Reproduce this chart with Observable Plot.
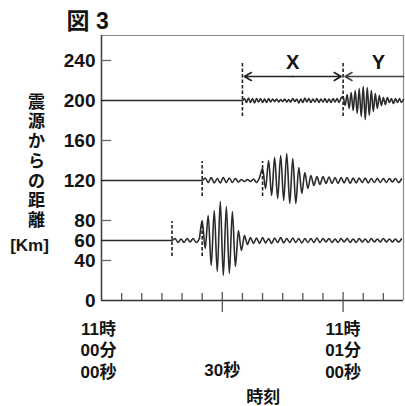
<!DOCTYPE html>
<html>
<head>
<meta charset="utf-8">
<script src="https://cdn.jsdelivr.net/npm/d3@7"></script>
<script src="https://cdn.jsdelivr.net/npm/@observablehq/plot@0.6"></script>
<style>
  html, body { margin: 0; padding: 0; background: #fff; }
  #chart { width: 405px; height: 406px; }
</style>
</head>
<body>
<div id="chart"></div>
<script>
// ---- data ----
const distances = [60, 120, 200];          // 震源からの距離 [km]
const pArrival  = [17.5, 25, 35];          // seconds after 11:00:00
const sArrival  = [25, 40, 60];
const waveStep  = [0.75, 0.75, 0.5];       // seconds between read samples

// trace displacements (km-scale units on the chart) sampled from P arrival onward
const wave60 = [
  0, 2, -2, 1.5, -2, 2, -1.5, 2, -2, 1.5,
  20, -8, 25, -25, 30, -31, 39, -35, 34, -33,
  29, -26, 10, -10, 5, -4, 3, -3, 2.5, -3,
  3, -2.5, 2, -3, 2.5, -2, 3, -2.5, 2, -2,
  2.5, -2, 2, -2.5, 2, -2, 2, -2, 2.5, -2,
  2, -1.5, 2, -2, 1.5, -2, 2, -1.5, 2, -2,
  1.5, -2, 2, -1.5, 1.5, -2, 2, -1.5, 1.5, -1.5,
  2, -1.5, 1.5, -1.5, 1.5, -1.5, 1.5
];
const wave120 = [
  0, 2.5, -2, 3, -2.5, 2, -2.5, 3, -2, 2.5,
  -2, 2, -1.5, 1, -1, 1, -1, 1.5, -2, 3,
  12, -8, 20, -15, 23, -18, 25, -20, 27, -23,
  22, -23, 13, -13, 8, -8, 5, -5, 4, -4,
  4, -3, 3.5, -3, 3, -3, 3, -2.5, 3, -3,
  2.5, -2.5, 2.5, -2, 2.5, -2.5, 2, -2, 2, -2,
  2, -2, 2, -1.5, 2, -2, 1.5
];
const wave200 = [
  0, 2, -2, 2.5, -2, 2, -2.5, 2, -1.5, 2,
  -2, 1.5, -2, 2, -1.5, 1.5, -1, 1.5, -1.5, 1,
  -1, 1.5, -1.5, 1, -1.5, 2, -1, 1.5, -2.5, 1.5,
  -2, 2.5, -1.5, 2, -2, 1.5, -1.5, 2, -2, 1.5,
  -1.5, 2, -2, 1.5, -2, 2, -1.5, 2, -2, 2.5,
  4, -5, 6, -8, 8, -10, 10, -13, 12, -16,
  14, -19, 13, -15, 10, -11, 7, -8, 5, -5,
  3, -4, 3, -2, 2, -3, 2, -2, 2, -2, 1
];
const waves = [wave60, wave120, wave200];

const yTicks = [0, 40, 60, 80, 120, 160, 200, 240];
const yInnerTicks = [40, 80, 160, 240];
const xMinorTicks = [5, 10, 15, 20, 25, 35, 40, 45, 50, 55, 65, 70];
const xMajorTicks = [30, 60];
const startLabel = [{t: 0, label: "11時\n00分\n00秒"}];
const endLabel = [{t: 60, label: "11時\n01分\n00秒"}];
const midLabel = [{t: 30, label: "30秒"}];
const xTitle = [{t: 40.2, label: "時刻"}];
const yTitle = "震\n源\nか\nら\nの\n距\n離";
const yUnit = "[Km]";
const intervalLabels = [{t: 47.5, label: "X"}, {t: 68.8, label: "Y"}];

// ---- build tables ----
const rows = [];
distances.forEach((dist, k) => {
  rows.push({dist, t: 0, y: dist});
  waves[k].forEach((v, i) => rows.push({dist, t: pArrival[k] + i * waveStep[k], y: dist + v}));
});
const markers = [];
distances.forEach((dist, k) => {
  markers.push({dist, t: pArrival[k]});
  markers.push({dist, t: sArrival[k]});
});
const arrowY = 224;
const ink = "#141414";
const labelStyle = {fontSize: 17, fontWeight: "bold", fill: ink};

const chart = Plot.plot({
  width: 405,
  height: 406,
  marginLeft: 101,
  marginRight: 2,
  marginTop: 35,
  marginBottom: 106,
  x: {domain: [0, 75], axis: null},
  y: {domain: [0, 265], axis: null},
  style: {
    fontFamily: '"Liberation Sans", Arial, "Noto Sans CJK JP", sans-serif',
    background: "#fff",
    overflow: "visible",
    color: ink
  },
  marks: [
    // frame
    Plot.ruleX([75], {stroke: "#8a8a8a", strokeWidth: 1.2}),
    Plot.ruleY([265], {stroke: "#8a8a8a", strokeWidth: 1.2}),
    Plot.ruleX([0], {stroke: "#444", strokeWidth: 1.6}),
    Plot.ruleY([0], {stroke: "#333", strokeWidth: 1.6}),
    // inner y ticks
    Plot.ruleY(yInnerTicks, {x1: 0, x2: 2.5, stroke: "#666", strokeWidth: 1.3}),
    // x ticks
    Plot.ruleX(xMinorTicks, {y1: 0, y2: 7, stroke: "#555", strokeWidth: 1.3}),
    Plot.ruleX(xMajorTicks, {y1: -12, y2: 8, stroke: "#555", strokeWidth: 1.3}),
    // traces
    Plot.line(rows, {x: "t", y: "y", z: "dist", stroke: "#2a2a2a", strokeWidth: 1.6, curve: "monotone-x"}),
    // arrival markers (dashed)
    Plot.ruleX(markers, {
      x: "t",
      y1: d => d.dist - 16,
      y2: d => d.dist + (d.dist === 200 ? 38 : 19),
      stroke: "#222", strokeWidth: 1.6, strokeDasharray: "3.5,2"
    }),
    // X and Y interval arrows
    Plot.arrow([{a: 47.5, b: pArrival[2]}, {a: 47.5, b: sArrival[2]}], {
      x1: "a", x2: "b", y1: arrowY, y2: arrowY,
      stroke: "#222", strokeWidth: 1.7, headLength: 7, insetEnd: 2
    }),
    Plot.arrow([{a: 75, b: sArrival[2]}], {
      x1: "a", x2: "b", y1: arrowY, y2: arrowY,
      stroke: "#444", strokeWidth: 1.7, headLength: 7, insetEnd: 2
    }),
    Plot.text(intervalLabels, {
      x: "t", y: 238, text: "label",
      fontSize: 20, fontWeight: "bold", fill: ink
    }),
    // y tick labels
    Plot.text(yTicks, {
      y: d => d, text: d => String(d), frameAnchor: "left",
      textAnchor: "end", dx: -6, fontSize: 19, fontWeight: "bold", fill: ink
    }),
    // y title (vertical)
    Plot.text([yTitle], {
      x: 0, y: 140, text: d => d, dx: -65,
      lineHeight: 1.16, ...labelStyle
    }),
    Plot.text([yUnit], {
      x: 0, y: 55, text: d => d, dx: -72, ...labelStyle
    }),
    // x tick labels
    Plot.text(startLabel, {
      x: "t", text: "label", frameAnchor: "bottom", lineAnchor: "top",
      dx: -3, dy: 19, lineHeight: 1.265, ...labelStyle
    }),
    Plot.text(endLabel, {
      x: "t", text: "label", frameAnchor: "bottom", lineAnchor: "top",
      dy: 19, lineHeight: 1.265, ...labelStyle
    }),
    Plot.text(midLabel, {
      x: "t", text: "label", frameAnchor: "bottom", lineAnchor: "middle",
      dy: 70, ...labelStyle
    }),
    Plot.text(xTitle, {
      x: "t", text: "label", frameAnchor: "bottom", lineAnchor: "middle",
      dy: 97, ...labelStyle
    }),
    // figure title
    Plot.text(["図 3"], {
      text: d => d, frameAnchor: "top-left", textAnchor: "start", lineAnchor: "middle",
      dx: -35, dy: -14, fontSize: 23, fontWeight: "bold", fill: ink
    })
  ]
});
document.getElementById("chart").appendChild(chart);
</script>
</body>
</html>
